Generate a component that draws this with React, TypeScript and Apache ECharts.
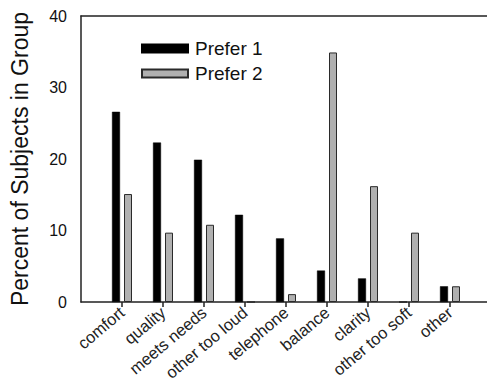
import React, { useEffect, useRef } from "react";
import * as echarts from "echarts";

const categories = ["comfort", "quality", "meets needs", "other too loud", "telephone", "balance", "clarity", "other too soft", "other"];
const prefer1 = [26.6, 22.3, 19.9, 12.2, 8.9, 4.4, 3.3, 0, 2.2];
const prefer2 = [15.1, 9.7, 10.8, 0, 1.1, 34.9, 16.2, 9.7, 2.2];
const yTicks = [0, 10, 20, 30, 40];

const FONT = "'Liberation Sans', Arial, sans-serif";

export default function App() {
  const ref = useRef<HTMLDivElement>(null);
  useEffect(() => {
    if (!ref.current) return;
    const chart = echarts.init(ref.current, undefined, { renderer: "svg" });
    const cats = ["", ...categories, ""];
    const s1 = [null, ...prefer1, null];
    const s2 = [null, ...prefer2, null];
    const axisLine = { show: true, lineStyle: { color: "#222", width: 1.5 } };
    chart.setOption({
      animation: false,
      backgroundColor: "#fff",
      textStyle: { fontFamily: FONT },
      grid: { left: 81, right: 0, top: 16, bottom: 83, containLabel: false, outerBoundsMode: "none" },
      legend: {
        orient: "vertical",
        left: 136,
        top: 34,
        itemWidth: 46,
        itemHeight: 8,
        itemGap: 6,
        icon: "rect",
        textStyle: { fontFamily: FONT, fontSize: 19, color: "#111", padding: [0, 0, 0, 2] },
        data: ["Prefer 1", "Prefer 2"],
      },
      xAxis: [
        {
          type: "category",
          data: cats,
          boundaryGap: false,
          axisLine,
          axisTick: {
            show: true,
            length: 5,
            inside: false,
            interval: (_i: number, v: string) => v !== "",
            lineStyle: { color: "#222", width: 1.5 },
          },
          axisLabel: {
            interval: 0,
            rotate: 40,
            fontSize: 16.5,
            fontFamily: FONT,
            color: "#222",
            margin: 8,
            hideOverlap: false,
          },
          splitLine: { show: false },
        },
        {
          type: "category",
          data: cats,
          position: "top",
          boundaryGap: false,
          axisLine,
          axisTick: { show: false },
          axisLabel: { show: false },
          splitLine: { show: false },
        },
      ],
      yAxis: {
        type: "value",
        min: yTicks[0],
        max: yTicks[yTicks.length - 1],
        interval: 10,
        axisLine,
        axisTick: { show: false },
        splitLine: { show: false },
        axisLabel: { fontSize: 16, fontFamily: FONT, color: "#111", margin: 14 },
        name: "Percent of Subjects in Group",
        nameLocation: "middle",
        nameGap: 50,
        nameTextStyle: { fontSize: 23, fontFamily: FONT, color: "#111" },
      },
      series: [
        {
          name: "Prefer 1",
          type: "bar",
          data: s1,
          barWidth: 8,
          barGap: "50%",
          itemStyle: { color: "#000", borderColor: "#000", borderWidth: 0.5 },
        },
        {
          name: "Prefer 2",
          type: "bar",
          data: s2,
          barWidth: 8,
          barGap: "50%",
          itemStyle: { color: "#b0b0b0", borderColor: "#2a2a2a", borderWidth: 1 },
        },
      ],
    });
    return () => chart.dispose();
  }, []);
  return (
    <div style={{ width: 487, height: 385, position: "absolute", left: 0, top: 0, overflow: "hidden" }}>
      <div ref={ref} style={{ width: 491, height: 385 }} />
    </div>
  );
}
